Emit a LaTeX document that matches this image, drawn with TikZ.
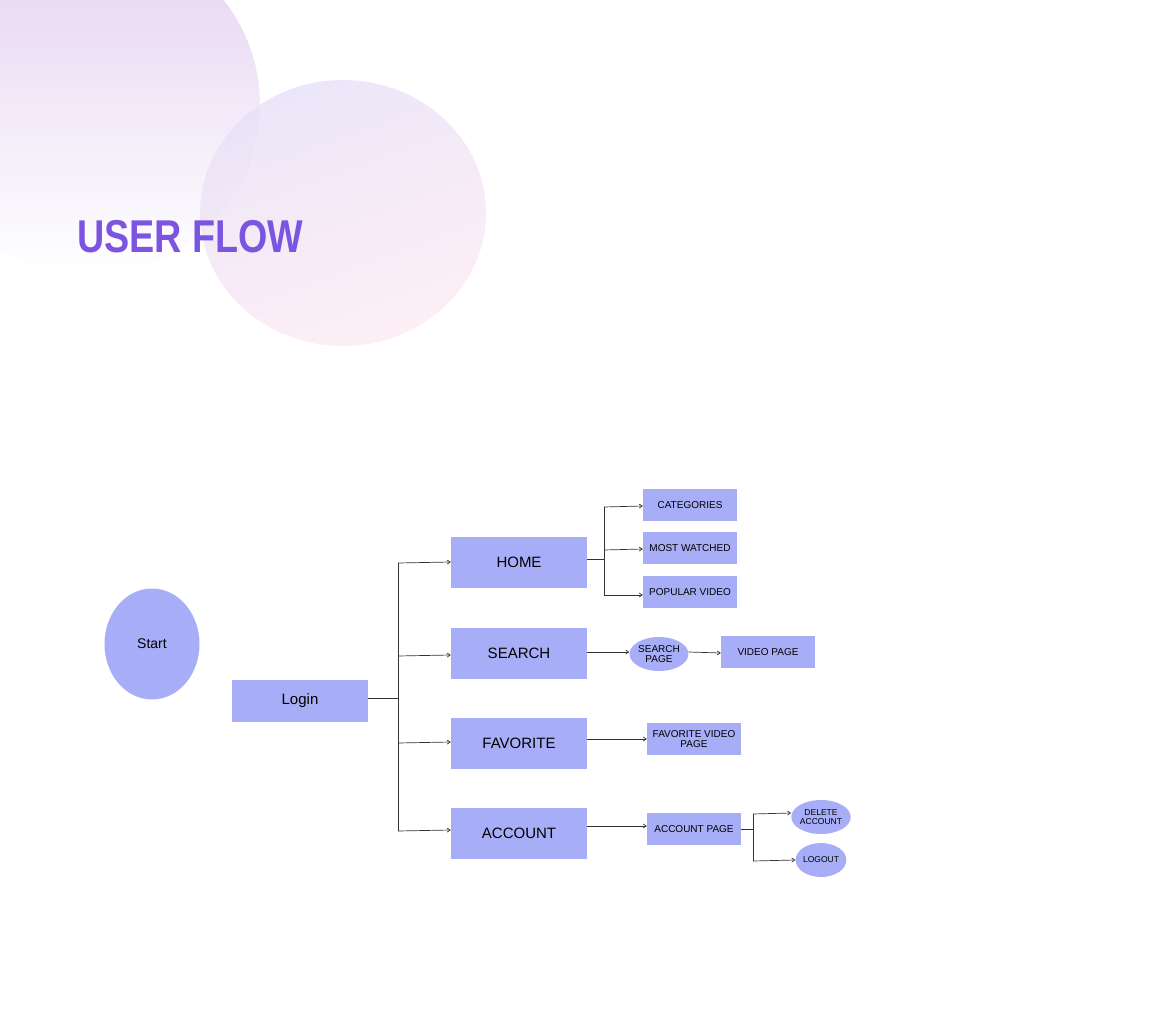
\documentclass[tikz,border=0pt]{standalone}
\usepackage{fontspec}
\setmainfont{Liberation Sans}
\usetikzlibrary{shapes.geometric,arrows.meta}
\definecolor{boxc}{HTML}{A8ADF7}
\definecolor{titlec}{HTML}{7B55E0}
\begin{document}
\begin{tikzpicture}[x=1pt,y=-1pt,
  box/.style={fill=boxc,draw=none,inner sep=0pt,align=center},
  big/.style={font=\fontsize{15}{17}\selectfont},
  small/.style={font=\fontsize{10}{10}\selectfont},
  tiny/.style={font=\fontsize{8.5}{9}\selectfont},
  ell/.style={ellipse,fill=boxc,draw=none,inner sep=0pt,align=center},
  con/.style={draw=black!80,line width=0.7pt},
  arr/.style={con,-{Straight Barb[length=3pt,width=4pt]}}]
\useasboundingbox (0,0) rectangle (1176,1011);
% background circles
\begin{scope}
\clip (0,0) rectangle (1176,1011);
\shade[top color={rgb,255:red,226;green,206;blue,240},bottom color=white,opacity=0.9] (90,105) circle (170);
\shade[top color={rgb,255:red,232;green,226;blue,248},bottom color={rgb,255:red,253;green,236;blue,243},opacity=0.85,shading angle=20] (343,213) ellipse (143 and 133);
\end{scope}
\node[anchor=west,text=titlec,font=\bfseries\fontsize{46}{46}\selectfont,xscale=0.82,transform shape,inner sep=0pt] (title) at (77,237) {USER FLOW};
% nodes
\node[ell,minimum width=95,minimum height=111,font=\fontsize{14}{14}\selectfont] (start) at (152,644) {Start};
\node[box,big,minimum width=136,minimum height=42] (login) at (300,701) {Login};
\node[box,big,minimum width=136,minimum height=51] (home) at (519,562) {HOME};
\node[box,big,minimum width=136,minimum height=51,text depth=-12pt] (search) at (519,653) {SEARCH};
\node[box,big,minimum width=136,minimum height=51,text depth=-6pt] (fav) at (519,743) {FAVORITE};
\node[box,big,minimum width=136,minimum height=51] (acc) at (519,833) {ACCOUNT};
\node[box,small,minimum width=94,minimum height=32] (cat) at (690,505) {CATEGORIES};
\node[box,small,minimum width=94,minimum height=32] (most) at (690,548) {MOST WATCHED};
\node[box,small,minimum width=94,minimum height=32] (pop) at (690,592) {POPULAR VIDEO};
\node[ell,small,minimum width=47,minimum height=34] (sp) at (659,654) {SEARCH\\PAGE};
\node[box,small,minimum width=94,minimum height=32] (vp) at (768,652) {VIDEO PAGE};
\node[box,small,minimum width=94,minimum height=32] (fvp) at (694,739) {FAVORITE VIDEO\\PAGE};
\node[box,small,minimum width=94,minimum height=32] (ap) at (694,829) {ACCOUNT PAGE};
\node[ell,tiny,minimum width=48,minimum height=34] (del) at (821,817) {DELETE\\ACCOUNT};
\node[ell,tiny,minimum width=48,minimum height=34] (out) at (821,860) {LOGOUT};
% connectors
\coordinate (t1) at (398,563);
\coordinate (t4) at (398,831);
\coordinate (tl) at (398,698);
\draw[con] (login.east |- tl) -- (tl);
\draw[con] (t1) -- (t4);
\draw[arr] (t1) -- (home.west);
\draw[arr] (398,656) -- (search.west |- 0,655);
\draw[arr] (398,743) -- (fav.west |- 0,742);
\draw[arr] (t4) -- (acc.west |- 0,830);
\coordinate (h1) at (604,507);
\coordinate (h2) at (604,595);
\draw[con] (home.east |- 0,559) -- (604,559);
\draw[con] (h1) -- (h2);
\draw[arr] (h1) -- (cat.west |- 0,506);
\draw[arr] (604,550) -- (most.west |- 0,549);
\draw[arr] (h2) -- (pop.west |- 0,595);
\draw[arr] (search.east |- 0,652) -- (sp.west |- 0,652);
\draw[arr] (sp.east |- 0,652) -- (vp.west |- 0,653);
\draw[arr] (fav.east |- 0,739) -- (fvp.west);
\draw[arr] (acc.east |- 0,826) -- (ap.west |- 0,826);
\coordinate (a1) at (753,814);
\coordinate (a2) at (753,861);
\draw[con] (ap.east |- 0,829) -- (753,829);
\draw[con] (a1) -- (a2);
\draw[arr] (a1) -- (del.west |- 0,813);
\draw[arr] (a2) -- (out.west |- 0,860);
\end{tikzpicture}
\end{document}
